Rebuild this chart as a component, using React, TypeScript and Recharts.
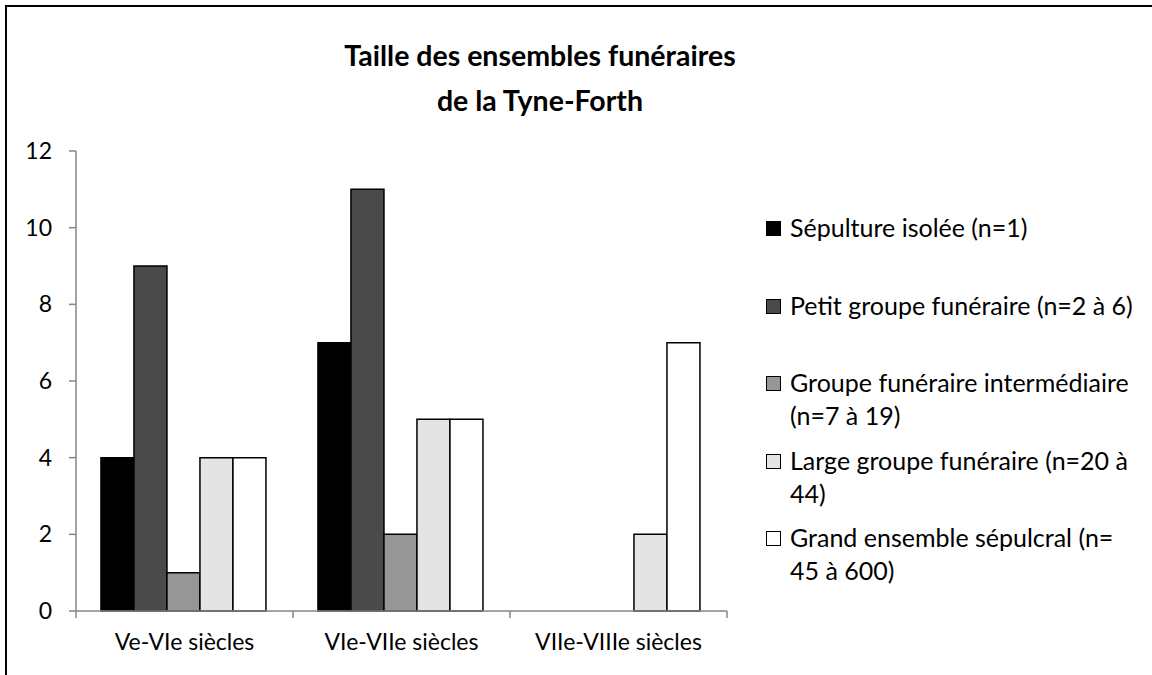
import React from "react";
import { BarChart, Bar, XAxis, YAxis } from "recharts";

const periods = ["Ve-VIe siècles", "VIe-VIIe siècles", "VIIe-VIIIe siècles"];
const isolee = [4, 7, 0];
const petit = [9, 11, 0];
const intermediaire = [1, 2, 0];
const large = [4, 5, 2];
const grand = [4, 5, 7];
const yTicks = [0, 2, 4, 6, 8, 10, 12];

const seriesNames = [
  "Sépulture isolée (n=1)",
  "Petit groupe funéraire (n=2 à 6)",
  "Groupe funéraire intermédiaire (n=7 à 19)",
  "Large groupe funéraire (n=20 à 44)",
  "Grand ensemble sépulcral (n= 45 à 600)",
];
const seriesColors = ["#000000", "#4a4a4a", "#969696", "#e4e4e4", "#ffffff"];

const data = periods.map((p, i) => ({
  period: p,
  isolee: isolee[i],
  petit: petit[i],
  intermediaire: intermediaire[i],
  large: large[i],
  grand: grand[i],
}));
const keys = ["isolee", "petit", "intermediaire", "large", "grand"];

const W = 1152;
const H = 675;
const margin = { top: 151, right: 425, bottom: 24, left: 36 };
const yAxisWidth = 40;
const plotWidth = W - margin.left - margin.right - yAxisWidth;
const band = plotWidth / periods.length;
const font = "Lato, 'Open Sans', sans-serif";

function XTick(props: any) {
  const { x, y, payload, index } = props;
  const left = x - band / 2;
  return (
    <g>
      <line x1={left} y1={y} x2={left} y2={y + 7} stroke="#868686" strokeWidth={1.5} />
      {index === periods.length - 1 && (
        <line x1={x + band / 2} y1={y} x2={x + band / 2} y2={y + 7} stroke="#868686" strokeWidth={1.5} />
      )}
      <text x={x} y={y + 33} textAnchor="middle" dominantBaseline="middle" fontSize={23} fontFamily={font} fill="#000">
        {payload.value}
      </text>
    </g>
  );
}

function LegendBox() {
  return (
    <div
      style={{
        position: "absolute",
        left: 766,
        top: 211,
        fontFamily: font,
        fontSize: 25,
        lineHeight: "33px",
        color: "#000",
      }}
    >
      {seriesNames.map((n, i) => (
        <div key={n} style={{ height: 77.5, display: "flex", alignItems: "flex-start" }}>
          <div
            style={{
              width: 13,
              height: 13,
              marginTop: 10,
              marginRight: 9,
              flex: "none",
              background: seriesColors[i],
              border: "1px solid #000",
            }}
          />
          <div style={{ width: 350 }}>{n}</div>
        </div>
      ))}
    </div>
  );
}

export default function App() {
  return (
    <div style={{ position: "fixed", left: 0, top: 0, width: W, height: H, overflow: "hidden", background: "#fff" }}>
      <div
        style={{
          position: "absolute",
          left: 5,
          top: 5,
          width: 1300,
          height: 900,
          border: "2px solid #000",
        }}
      />
      <div
        style={{
          position: "absolute",
          left: 290,
          top: 33,
          width: 500,
          textAlign: "center",
          fontFamily: font,
          fontWeight: 700,
          fontSize: 28.5,
          lineHeight: "45px",
          color: "#000",
        }}
      >
        Taille des ensembles funéraires
        <br />
        de la Tyne-Forth
      </div>
      <div style={{ position: "absolute", left: 0, top: 0 }}>
        <BarChart width={W} height={H} data={data} margin={margin} barGap={0} barCategoryGap="11.5%">
          <XAxis
            dataKey="period"
            axisLine={{ stroke: "#868686", strokeWidth: 1.5 }}
            tickLine={false}
            tickSize={0}
            tickMargin={0}
            height={40}
            tick={<XTick />}
            interval={0}
          />
          <YAxis
            domain={[0, 12]}
            ticks={yTicks}
            width={yAxisWidth}
            axisLine={{ stroke: "#868686", strokeWidth: 1.5 }}
            tickLine={{ stroke: "#868686", strokeWidth: 1.5 }}
            tickSize={7}
            tickMargin={17}
            tick={{ fontSize: 23, fontFamily: font, fill: "#000" }}
          />
          {keys.map((k, i) => (
            <Bar
              key={k}
              dataKey={k}
              name={seriesNames[i]}
              fill={seriesColors[i]}
              stroke="#000"
              strokeWidth={1.5}
              isAnimationActive={false}
            />
          ))}
        </BarChart>
      </div>
      <LegendBox />
    </div>
  );
}
